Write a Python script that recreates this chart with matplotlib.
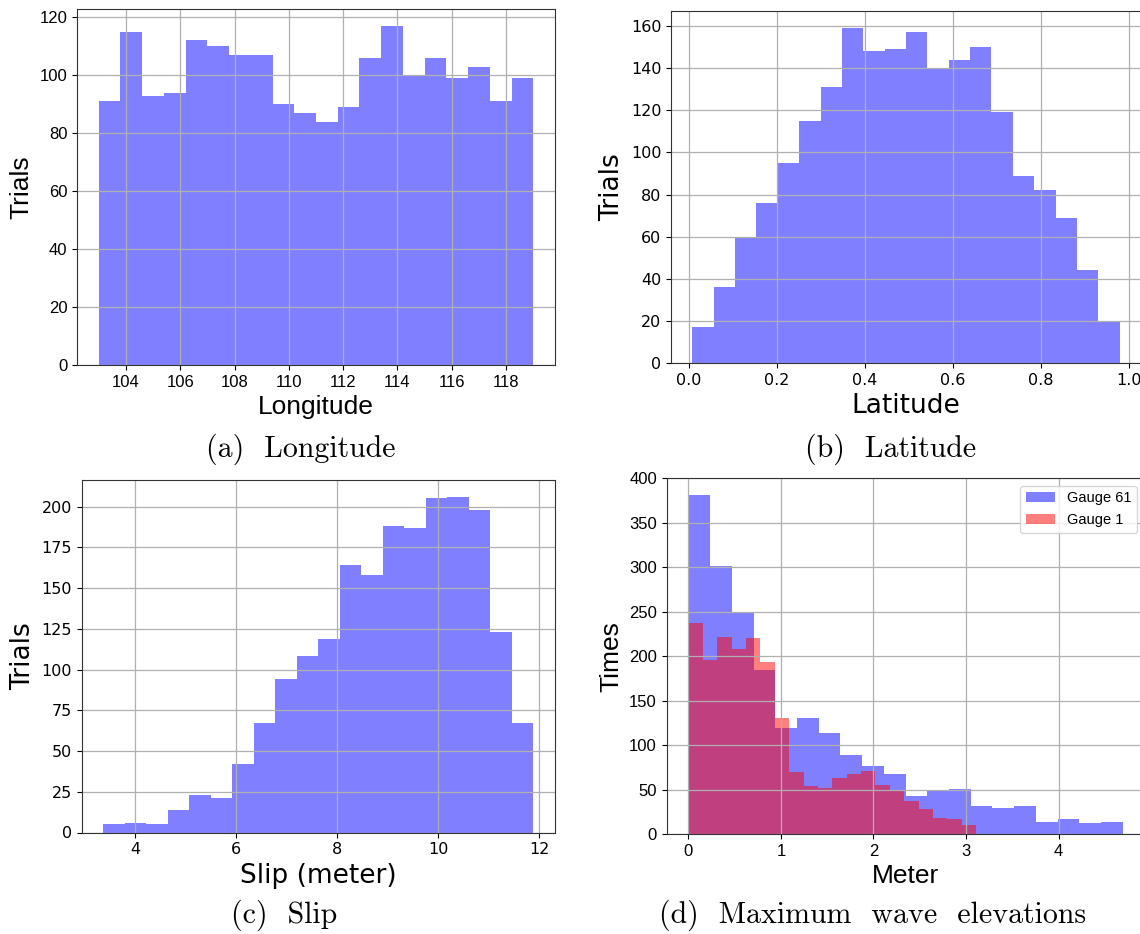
import numpy as np
import matplotlib
matplotlib.use('Agg')
import matplotlib.pyplot as plt

# bin counts, 20 equal bins per histogram
lon_counts = [91, 115, 93, 94, 112, 110, 107, 107, 90, 87, 84, 89, 106, 117, 100, 106, 99, 103, 91, 99]
lon_range = (103.0, 119.0)

lat_counts = [17, 36, 60, 76, 95, 115, 131, 159, 148, 149, 157, 140, 144, 150, 119, 89, 82, 69, 44, 20]
lat_range = (0.0084, 0.9795)

slip_counts = [5, 6, 5, 14, 23, 21, 42, 67, 94, 108, 119, 164, 158, 188, 187, 205, 206, 198, 123, 67]
slip_range = (3.366, 11.89)

g61_counts = [381, 301, 248, 184, 119, 130, 114, 89, 77, 68, 43, 48, 51, 32, 29, 31, 13, 17, 12, 13]
g61_range = (0.0, 4.694)
g1_counts = [237, 196, 222, 208, 221, 194, 130, 70, 54, 52, 63, 67, 71, 55, 50, 37, 28, 18, 17, 10]
g1_range = (0.0, 3.11)

ARIAL = 'Liberation Sans'
DEJAVU = 'DejaVu Sans'


# draw a histogram from already counted bins
def hist(ax, counts, rng, color, label=None):
    edges = np.linspace(rng[0], rng[1], len(counts) + 1)
    ax.hist(edges[:-1], bins=edges, weights=counts, color=color, alpha=0.5, label=label)


def style(ax, family, xlabel, ylabel, tick_size=11.5):
    ax.grid(True, color='#b0b0b0', linewidth=0.9)
    ax.set_xlabel(xlabel, fontsize=19, family=family)
    ax.set_ylabel(ylabel, fontsize=19, family=family)
    for lab in ax.get_xticklabels() + ax.get_yticklabels():
        lab.set_family(family)
        lab.set_fontsize(tick_size)
    for s in ax.spines.values():
        s.set_color('#333333')


fig = plt.figure(figsize=(11.4, 9.34), dpi=100)
W, H = 1140.0, 934.0


def axes_px(left, top, right, bottom):
    return fig.add_axes([left / W, 1 - bottom / H, (right - left) / W, (bottom - top) / H])


ax_a = axes_px(77, 9, 555, 365)
hist(ax_a, lon_counts, lon_range, 'blue')
style(ax_a, ARIAL, 'Longitude', 'Trials', 12)

ax_b = axes_px(671, 11.4, 1141, 363)
hist(ax_b, lat_counts, lat_range, 'blue')
style(ax_b, DEJAVU, 'Latitude', 'Trials')

ax_c = axes_px(81.5, 480, 555, 832.5)
hist(ax_c, slip_counts, slip_range, 'blue')
style(ax_c, DEJAVU, 'Slip (meter)', 'Trials')

ax_d = axes_px(666.7, 478.3, 1144.5, 834)
hist(ax_d, g61_counts, g61_range, 'blue', 'Gauge 61')
hist(ax_d, g1_counts, g1_range, 'red', 'Gauge 1')
style(ax_d, ARIAL, 'Meter', 'Times', 12)
ax_d.legend(loc='upper right', prop={'family': ARIAL, 'size': 10.5})

# sub-captions
captions = [('(a)  Longitude', 301, 457), ('(b)  Latitude', 891, 457),
            ('(c)  Slip', 284, 923), ('(d)  Maximum  wave  elevations', 873, 923)]
for txt, cx, cy in captions:
    fig.text(cx / W, 1 - cy / H, txt, family='cmr10', fontsize=21.5,
             ha='center', va='baseline')

plt.savefig('out.png', dpi=100)
